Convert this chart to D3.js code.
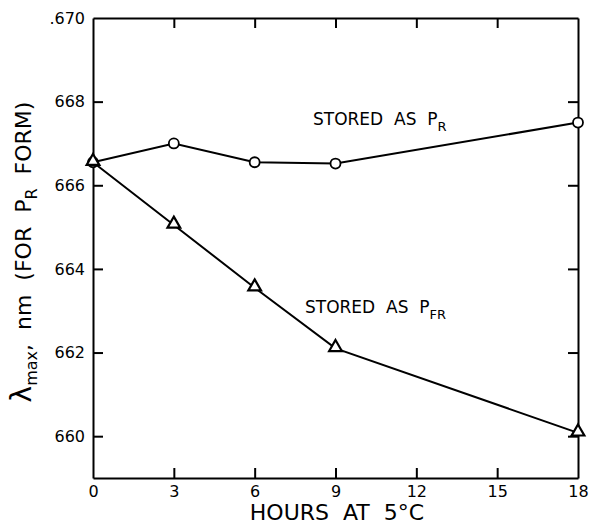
<!DOCTYPE html>
<html>
<head>
<meta charset="utf-8">
<script src="https://cdn.jsdelivr.net/npm/d3@7"></script>
<style>
  body { margin: 0; background: #fff; }
  text { font-family: "DejaVu Sans", sans-serif; fill: #000; }
</style>
</head>
<body>
<div class="chart"></div>
<script>
// data
var hours = [0, 3, 6, 9, 18];
var storedPr = [666.55, 667.0, 666.55, 666.52, 667.5];
var storedPfr = [666.55, 665.05, 663.55, 662.1, 660.08];
var xTicks = [0, 3, 6, 9, 12, 15, 18];
var yTicks = [660, 662, 664, 666, 668, 670];

var W = 591, H = 527;
var margin = {top: 18, right: 13, bottom: 49, left: 93};
var width = W - margin.left - margin.right;
var height = H - margin.top - margin.bottom;

var svg = d3.select(".chart")
    .append("svg")
    .attr("width", W)
    .attr("height", H)
    .append("g")
    .attr("transform", "translate(" + margin.left + "," + margin.top + ")");

var x = d3.scaleLinear().domain([0, 18]).range([0, width]);
var y = d3.scaleLinear().domain([659, 670]).range([height, 0]);

function styleAxis(g) {
  g.selectAll("path, line").attr("stroke", "#000").attr("stroke-width", 2);
  g.selectAll("text").style("font-size", "16px").attr("fill", "#000");
}

// bottom
svg.append("g")
    .attr("transform", "translate(0," + height + ")")
    .call(d3.axisBottom(x).tickValues(xTicks).tickSizeInner(-10).tickSizeOuter(0).tickPadding(8))
    .call(styleAxis)
    .call(function(g) { g.selectAll(".tick").filter(function(d) { return d === 0 || d === 18; }).select("line").remove(); });
// left
svg.append("g")
    .call(d3.axisLeft(y).tickValues(yTicks).tickSizeInner(-10).tickSizeOuter(0).tickPadding(8)
      .tickFormat(function(d) { return d === 670 ? ".670" : d; }))
    .call(styleAxis)
    .call(function(g) { g.selectAll(".tick").filter(function(d) { return d === 670; }).select("line").remove(); });
// top
svg.append("g")
    .call(d3.axisTop(x).tickValues(xTicks.slice(1, -1)).tickSizeInner(-10).tickSizeOuter(0).tickFormat(""))
    .call(styleAxis);
// right
svg.append("g")
    .attr("transform", "translate(" + width + ",0)")
    .call(d3.axisRight(y).tickValues(yTicks.slice(0, -1)).tickSizeInner(-10).tickSizeOuter(0).tickFormat(""))
    .call(styleAxis);

var line = d3.line()
    .x(function(d, i) { return x(hours[i]); })
    .y(function(d) { return y(d); });

svg.append("path").datum(storedPr)
    .attr("fill", "none").attr("stroke", "#000").attr("stroke-width", 2)
    .attr("d", line);
svg.append("path").datum(storedPfr)
    .attr("fill", "none").attr("stroke", "#000").attr("stroke-width", 2)
    .attr("d", line);

// circles
svg.selectAll(".pr").data(storedPr).enter().append("circle")
    .attr("cx", function(d, i) { return x(hours[i]); })
    .attr("cy", function(d) { return y(d); })
    .attr("r", 5)
    .attr("fill", "#fff").attr("stroke", "#000").attr("stroke-width", 1.8);

// triangles
svg.selectAll(".pfr").data(storedPfr).enter().append("path")
    .attr("transform", function(d, i) { return "translate(" + x(hours[i]) + "," + (y(d) - 1) + ")"; })
    .attr("d", d3.symbol().type(d3.symbolTriangle).size(70))
    .attr("fill", "#fff").attr("stroke", "#000").attr("stroke-width", 2.2);

// annotations
var t1 = svg.append("text")
    .attr("x", 313 - margin.left).attr("y", 125 - margin.top)
    .style("font-size", "17px").style("white-space", "pre");
t1.append("tspan").text("STORED  AS  P");
t1.append("tspan").attr("dy", 6).style("font-size", "13px").text("R");

var t2 = svg.append("text")
    .attr("x", 305 - margin.left).attr("y", 313 - margin.top)
    .style("font-size", "17px").style("white-space", "pre");
t2.append("tspan").text("STORED  AS  P");
t2.append("tspan").attr("dy", 6).style("font-size", "13px").text("FR");

// axis titles
svg.append("text")
    .attr("x", 337 - margin.left).attr("y", 520 - margin.top)
    .attr("text-anchor", "middle")
    .style("font-size", "22px").style("white-space", "pre")
    .text("HOURS  AT  5°C");

var yl = svg.append("text")
    .attr("transform", "translate(" + (31 - margin.left) + "," + (252 - margin.top) + ") rotate(-90)")
    .attr("text-anchor", "middle")
    .style("font-size", "22px").style("white-space", "pre");
yl.append("tspan").style("font-size", "28px").text("λ");
yl.append("tspan").attr("dy", 6).style("font-size", "16px").text("max");
yl.append("tspan").attr("dy", -6).text(",  nm  (FOR  P");
yl.append("tspan").attr("dy", 6).style("font-size", "16px").text("R");
yl.append("tspan").attr("dy", -6).text("  FORM)");
</script>
</body>
</html>
